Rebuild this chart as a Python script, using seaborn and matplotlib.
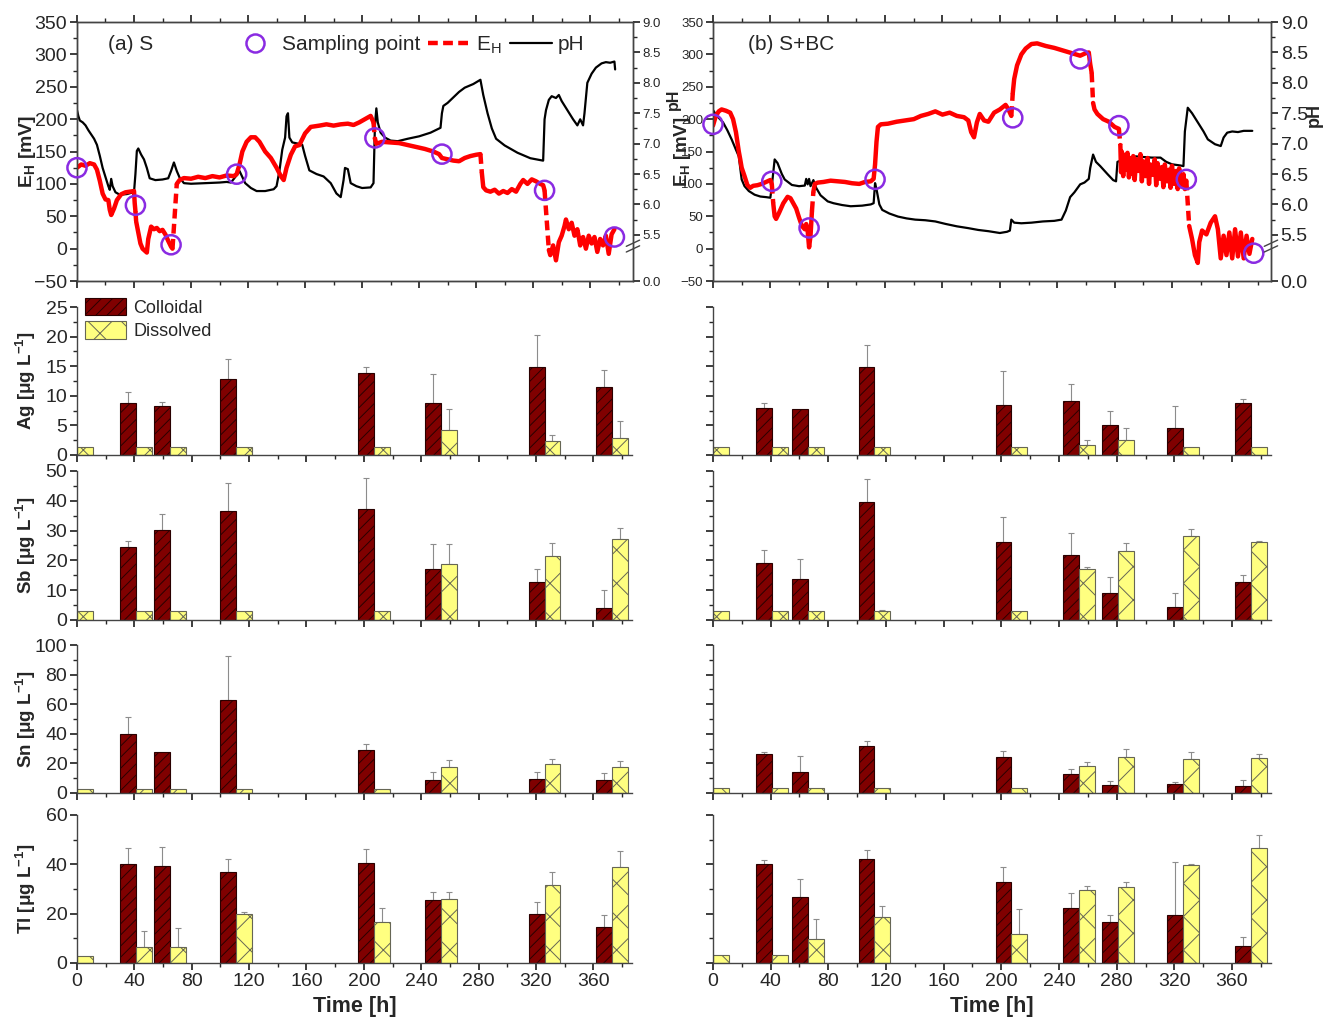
import matplotlib
matplotlib.use("Agg")
import matplotlib.pyplot as plt
from matplotlib.lines import Line2D
from matplotlib.patches import Patch
from matplotlib.ticker import MultipleLocator, FixedLocator, NullFormatter
import numpy as np
import pandas as pd
import seaborn as sns

# ---------------- top panels: EH (segments) and pH traces ----------------
s_eh_t = [
    [0, 3, 6, 9, 12, 14, 16, 18, 20, 22, 23, 24, 26, 28, 31, 34, 37, 40, 40.5, 41],
    [41.5, 43, 44.5, 46, 48, 49, 50, 52, 54, 56, 58, 60, 62, 64, 66, 67],
    [70, 72, 75, 80, 85, 90, 95, 100, 105, 110, 112, 114, 116, 119, 122, 125, 128, 132, 136,
     140, 143, 145, 147, 150, 153, 156, 160, 164, 170, 175, 180, 185, 190, 194, 198, 202, 206, 208],
    [209, 210, 214, 220, 226, 232, 238, 244, 250, 254, 256, 260, 264, 268, 272, 276, 280, 283],
    [284, 285, 287, 290, 293, 296, 299, 302, 305, 308, 311, 313, 316, 319, 322, 325, 327, 328],
    [331, 332, 334, 336, 338, 340, 342, 343, 345, 347, 349, 351, 353, 355, 357, 359, 361, 363,
     365, 367, 369, 371, 373, 375, 377],
]
s_eh = [
    [125, 130, 128, 132, 130, 122, 105, 85, 76, 75, 60, 52, 62, 75, 84, 87, 88, 89, 70, 58],
    [42, 25, 8, 0, -4, -6, 15, 34, 30, 32, 27, 29, 22, 12, 3, 0],
    [100, 106, 109, 108, 111, 109, 112, 110, 113, 112, 115, 130, 150, 165, 172, 172, 165, 150, 140,
     125, 112, 106, 125, 145, 158, 160, 178, 188, 190, 192, 190, 192, 193, 191, 195, 200, 205, 195],
    [170, 162, 165, 164, 163, 160, 157, 154, 150, 146, 140, 138, 136, 135, 140, 143, 145, 146],
    [117, 95, 90, 88, 91, 85, 89, 86, 92, 88, 100, 106, 100, 107, 104, 100, 98, 90],
    [-2, -10, 5, -18, 10, 20, 35, 45, 30, 40, 20, 30, 5, 18, 0, 20, 8, 18,
     -5, 15, 5, 20, -8, 22, 30],
]
s_ph_t = [0, 1, 2, 4, 6, 8, 10, 12, 14, 16, 18, 20, 22, 23, 24, 25, 27, 30, 35, 38, 40, 41, 42, 43,
          45, 47, 49, 51, 55, 60, 64, 66, 68, 70, 72, 75, 80, 90, 100, 105, 108, 110, 112, 114, 116,
          118, 122, 126, 132, 138, 140, 142, 144, 146, 147, 148, 149, 151, 155, 158, 160, 163, 168,
          173, 178, 182, 185, 187, 188, 190, 192, 196, 200, 206, 208, 209, 210, 211, 213, 216, 220,
          225, 232, 240, 248, 255, 256, 257, 260, 264, 268, 272, 278, 283, 285, 288, 291, 294, 300,
          309, 318, 327, 328, 329, 331, 333, 336, 338, 340, 344, 348, 351, 353, 355, 356, 358, 361,
          364, 368, 371, 374, 377, 377.5]
s_ph = [7.55, 7.45, 7.38, 7.35, 7.3, 7.22, 7.15, 7.08, 6.98, 6.8, 6.6, 6.45, 6.3, 6.24, 6.42, 6.3,
        6.2, 6.16, 6.17, 6.19, 6.2, 6.5, 6.88, 6.92, 6.82, 6.74, 6.6, 6.43, 6.4, 6.41, 6.43, 6.55,
        6.69, 6.55, 6.44, 6.35, 6.34, 6.35, 6.36, 6.37, 6.36, 6.42, 6.48, 6.55, 6.45, 6.35, 6.27,
        6.22, 6.22, 6.25, 6.3, 6.55, 6.9, 7.1, 7.45, 7.5, 7.1, 7.02, 7.0, 6.98, 6.8, 6.56, 6.5, 6.46,
        6.35, 6.18, 6.12, 6.4, 6.6, 6.58, 6.35, 6.3, 6.27, 6.28, 6.35, 7.3, 7.58, 7.35, 7.18, 7.1,
        7.05, 7.04, 7.08, 7.12, 7.18, 7.26, 7.5, 7.62, 7.67, 7.76, 7.85, 7.92, 7.98, 8.05, 7.8, 7.5,
        7.25, 7.08, 6.97, 6.85, 6.76, 6.72, 7.4, 7.55, 7.72, 7.78, 7.75, 7.8, 7.7, 7.55, 7.4, 7.3,
        7.4, 7.3, 7.5, 8.0, 8.15, 8.25, 8.32, 8.34, 8.33, 8.35, 8.22]
s_samp_t = [0, 41, 66, 112, 209, 256, 328, 377]
s_samp_eh = [125, 67, 6, 115, 171, 146, 90, 18]

b_eh_t = [
    [0, 2, 4, 6, 9, 12, 14, 16, 18, 19, 20, 22, 24, 26, 28, 31, 34, 37, 40, 41],
    [42, 43, 44, 46, 49, 52, 54, 56, 58, 60, 62, 64, 65, 66, 67, 68, 69],
    [70, 71, 73, 77, 82, 87, 92, 97, 102, 106, 110, 112, 113, 114, 115, 117, 122, 128, 134, 140,
     145, 150, 155, 160, 165, 170, 175, 178, 180, 182, 184, 186, 189, 192, 196, 200, 204, 206, 208],
    [209, 210, 212, 215, 218, 222, 226, 232, 238, 244, 250, 256, 260, 262, 263, 264],
    [265, 266, 268, 272, 276, 280, 283],
    [284, 284.5, 285, 286, 287, 288, 289, 290, 291, 292, 293, 294, 295, 296.5, 298, 299, 300,
     301.5, 303, 304, 305, 306.5, 308, 309, 310, 311.5, 313, 314, 315, 316.5, 318, 319, 320,
     321.5, 323, 324, 325, 326.5, 328, 329, 330],
    [332, 334, 336, 338, 339, 341, 344, 347, 350, 352, 354, 356, 358, 360, 362, 364, 366, 368,
     370, 372, 374, 376],
]
b_eh = [
    [190, 205, 212, 215, 213, 210, 200, 180, 150, 138, 125, 112, 98, 94, 97, 98, 100, 103, 106, 100],
    [70, 50, 46, 55, 70, 80, 78, 70, 62, 48, 35, 30, 38, 28, 2, 20, 58],
    [88, 100, 102, 103, 105, 104, 103, 101, 100, 103, 104, 108, 130, 165, 188, 192, 193, 196, 198,
     200, 205, 208, 212, 207, 210, 205, 203, 198, 180, 172, 195, 208, 198, 196, 210, 215, 222, 215,
     205],
    [240, 262, 283, 300, 309, 316, 317, 313, 310, 306, 302, 298, 302, 303, 285, 272],
    [225, 215, 208, 200, 196, 188, 185],
    [160, 118, 150, 112, 145, 122, 148, 110, 140, 116, 143, 106, 138, 120, 146, 104, 135,
     112, 140, 100, 130, 114, 138, 98, 132, 108, 126, 95, 130, 104, 122, 94, 128,
     100, 120, 92, 124, 96, 115, 92, 105],
    [35, 15, -10, -22, 10, 28, 22, 40, 50, 30, -15, 20, -10, 25, -15, 30, -12, 25,
     -15, 20, -8, 15],
]
b_ph_t = [0, 3, 7, 10, 13, 16, 18, 19, 20, 22, 25, 29, 33, 37, 40, 41, 43, 45, 48, 50, 55, 60, 64,
          65, 66, 67, 68, 70, 72, 75, 80, 84, 90, 96, 104, 110, 112, 113, 114, 116, 118, 123, 129,
          135, 141, 148, 155, 162, 170, 178, 185, 192, 200, 205, 207, 208, 210, 215, 222, 230, 238,
          243, 246, 249, 252, 256, 259, 262, 263, 265, 267, 270, 275, 279, 281, 282, 284, 290, 295,
          300, 306, 312, 316, 320, 326, 328, 329, 331, 334, 338, 342, 345, 350, 354, 356, 358.5,
          362, 366, 370, 376]
b_ph = [7.55, 7.45, 7.35, 7.22, 7.07, 6.9, 6.79, 6.6, 6.41, 6.3, 6.22, 6.16, 6.13, 6.12, 6.11, 6.3,
        6.74, 6.68, 6.5, 6.41, 6.32, 6.3, 6.31, 6.42, 6.33, 6.42, 6.3, 6.4, 6.27, 6.15, 6.05, 6.02,
        5.99, 5.97, 5.98, 6.0, 6.02, 6.35, 6.25, 6.0, 5.91, 5.85, 5.8, 5.77, 5.75, 5.74, 5.72, 5.68,
        5.64, 5.61, 5.58, 5.56, 5.53, 5.55, 5.57, 5.75, 5.7, 5.69, 5.7, 5.72, 5.73, 5.75, 5.9, 6.12,
        6.2, 6.33, 6.36, 6.42, 6.6, 6.82, 6.7, 6.63, 6.5, 6.4, 6.38, 6.7, 6.72, 6.77, 6.79, 6.78,
        6.77, 6.77, 6.7, 6.66, 6.64, 6.63, 7.2, 7.59, 7.5, 7.35, 7.2, 7.07, 6.99, 6.96, 7.1, 7.18,
        7.2, 7.19, 7.21, 7.21]
b_samp_t = [0, 41, 67, 113, 209, 256, 283, 330, 377]
b_samp_eh = [192, 104, 32, 107, 202, 293, 190, 107, -7]

# ---------------- bar panels ----------------
elements = ["Ag", "Sb", "Sn", "Tl"]
s_bar_t = [0, 41, 65, 111, 207, 254, 326, 373]
b_bar_t = [0, 41, 66, 112, 207, 254, 281, 326, 373]

s_coll = {
    "Ag": [0, 8.8, 8.3, 12.8, 13.9, 8.7, 14.9, 11.5],
    "Sb": [0, 24.5, 30.3, 36.5, 37.3, 17.0, 12.7, 4.1],
    "Sn": [0, 40.0, 28.0, 63.0, 29.0, 9.0, 9.6, 8.9],
    "Tl": [0, 40.1, 39.5, 36.8, 40.5, 25.4, 19.7, 14.6],
}
s_coll_err = {
    "Ag": [0, 10.7, 9.0, 16.2, 14.9, 13.7, 20.3, 14.4],
    "Sb": [0, 26.5, 35.5, 46.0, 47.5, 25.4, 17.0, 9.9],
    "Sn": [0, 51.2, 28.0, 92.4, 32.9, 14.1, 14.1, 13.2],
    "Tl": [0, 46.7, 47.0, 42.3, 46.3, 28.7, 24.6, 19.5],
}
s_diss = {
    "Ag": [1.3, 1.3, 1.3, 1.3, 1.3, 4.2, 2.3, 2.9],
    "Sb": [3.0, 3.0, 3.0, 3.0, 3.0, 18.8, 21.5, 27.2],
    "Sn": [2.9, 2.9, 2.9, 2.9, 2.9, 17.4, 19.5, 17.3],
    "Tl": [2.95, 6.3, 6.6, 19.7, 16.5, 25.8, 31.8, 38.8],
}
s_diss_err = {
    "Ag": [1.3, 1.3, 1.3, 1.3, 1.3, 7.7, 3.35, 5.8],
    "Sb": [3.0, 3.0, 3.0, 3.0, 3.0, 25.4, 25.8, 31.0],
    "Sn": [2.9, 2.9, 2.9, 2.9, 2.9, 22.6, 23.0, 21.7],
    "Tl": [2.95, 13.0, 14.2, 20.7, 22.1, 28.9, 36.9, 45.2],
}
b_coll = {
    "Ag": [0, 7.9, 7.7, 14.9, 8.5, 9.1, 5.0, 4.5, 8.8],
    "Sb": [0, 19.2, 13.8, 39.5, 26.0, 21.9, 9.2, 4.5, 12.7],
    "Sn": [0, 26.3, 14.5, 32.0, 24.3, 12.7, 5.6, 5.8, 4.5],
    "Tl": [0, 40.0, 26.6, 42.0, 32.7, 22.3, 16.6, 19.3, 6.9],
}
b_coll_err = {
    "Ag": [0, 8.8, 7.7, 18.5, 14.2, 12.0, 7.4, 8.3, 9.5],
    "Sb": [0, 23.6, 20.6, 47.4, 34.5, 29.3, 14.3, 8.9, 15.0],
    "Sn": [0, 27.7, 24.8, 35.1, 28.6, 15.9, 8.3, 7.6, 8.5],
    "Tl": [0, 41.6, 34.1, 46.0, 38.9, 28.3, 19.5, 40.8, 10.5],
}
b_diss = {
    "Ag": [1.3, 1.3, 1.3, 1.3, 1.3, 1.7, 2.5, 1.3, 1.3],
    "Sb": [3.1, 3.1, 3.1, 2.9, 3.1, 17.2, 23.1, 28.2, 26.2],
    "Sn": [3.1, 3.1, 3.1, 3.1, 3.1, 18.3, 24.4, 22.8, 23.7],
    "Tl": [3.1, 3.1, 9.9, 18.7, 11.7, 29.5, 30.6, 39.8, 46.5],
}
b_diss_err = {
    "Ag": [1.3, 1.3, 1.3, 1.3, 1.3, 2.6, 4.5, 1.3, 1.3],
    "Sb": [3.1, 3.1, 3.1, 3.5, 3.1, 17.9, 25.7, 30.4, 26.5],
    "Sn": [3.1, 3.1, 3.1, 3.1, 3.1, 20.8, 29.8, 27.7, 26.4],
    "Tl": [3.1, 3.1, 17.7, 23.0, 21.9, 31.3, 32.8, 40.3, 52.0],
}
y_max = {"Ag": 25, "Sb": 50, "Sn": 100, "Tl": 60}
y_major = {"Ag": 5, "Sb": 10, "Sn": 20, "Tl": 20}

COLL = "#800000"
DISS = "#FFFF80"
RED = "#FF0000"
PURPLE = "#8A2BE2"

sns.set_theme(style="ticks")
plt.rcParams["font.family"] = ["Liberation Sans", "DejaVu Sans"]
plt.rcParams["mathtext.fontset"] = "custom"
plt.rcParams["mathtext.rm"] = "Liberation Sans"
plt.rcParams["mathtext.bf"] = "Liberation Sans:bold"
plt.rcParams["hatch.linewidth"] = 0.7
plt.rcParams["axes.linewidth"] = 1.0
plt.rcParams["xtick.direction"] = "out"
plt.rcParams["ytick.direction"] = "out"

BIG = 14
SMALL = 9.5

fig = plt.figure(figsize=(13.25, 10.19), dpi=100)


def ph_to_axis(ax2):
    ax2.set_ylim(4.74, 9.0)
    ax2.yaxis.set_major_locator(FixedLocator([4.74, 5.5, 6.0, 6.5, 7.0, 7.5, 8.0, 8.5, 9.0]))
    ax2.set_yticklabels(["0.0", "5.5", "6.0", "6.5", "7.0", "7.5", "8.0", "8.5", "9.0"])
    ax2.yaxis.set_minor_locator(FixedLocator(np.arange(5.75, 9.0, 0.5)))


def draw_top(rect, eh_t, eh, ph_t, ph, samp_t, samp_eh, xmax, left_fs, right_fs):
    ax = fig.add_axes(rect)
    ax2 = ax.twinx()
    sns.lineplot(x=ph_t, y=ph, ax=ax2, color="black", lw=1.6, estimator=None, sort=False)
    rows = []
    for k, (tt, vv) in enumerate(zip(eh_t, eh)):
        rows += [(k, a, b) for a, b in zip(tt, vv)]
    df = pd.DataFrame(rows, columns=["seg", "t", "eh"])
    sns.lineplot(data=df, x="t", y="eh", units="seg", estimator=None, sort=False,
                 color=RED, lw=3.2, ax=ax)
    for k in range(len(eh_t) - 1):
        ax.plot([eh_t[k][-1], eh_t[k + 1][0]], [eh[k][-1], eh[k + 1][0]],
                color=RED, lw=3.2, ls=(0, (2.2, 1.2)))
    ax.scatter(samp_t, samp_eh, s=190, facecolors="none", edgecolors=PURPLE,
               linewidths=1.8, zorder=5, clip_on=False)
    ax.set_zorder(ax2.get_zorder() + 1)
    ax.patch.set_visible(False)
    ax.set_xlim(0, xmax)
    ax.set_ylim(-50, 350)
    ax.yaxis.set_major_locator(MultipleLocator(50))
    ax.yaxis.set_minor_locator(MultipleLocator(25))
    ax.xaxis.set_major_locator(MultipleLocator(40))
    ax.xaxis.set_minor_locator(MultipleLocator(20))
    ax.tick_params(axis="x", which="both", top=True, labelbottom=False)
    ax.tick_params(axis="both", which="major", length=5)
    ax.tick_params(axis="both", which="minor", length=3)
    ax.tick_params(axis="y", labelsize=left_fs, pad=2)
    ax.set_xlabel("")
    ph_to_axis(ax2)
    ax2.tick_params(axis="y", which="major", length=5, labelsize=right_fs, pad=2)
    ax2.tick_params(axis="y", which="minor", length=3)
    ax2.set_ylabel("")
    for s in ax.spines.values():
        s.set_color("#444444")
    # axis break marks
    for dy in (0.0, 0.022):
        ax.plot([0.988, 1.012], [0.112 + dy, 0.136 + dy], transform=ax.transAxes,
                color="#444444", lw=1.0, clip_on=False, zorder=10)
    return ax, ax2


# top-left
axA, axA2 = draw_top([0.0581, 0.7242, 0.4196, 0.2542], s_eh_t, s_eh, s_ph_t, s_ph,
                     s_samp_t, s_samp_eh, 390, BIG, SMALL)
axA.set_ylabel(r"E$_\mathbf{H}$ [mV]", fontsize=14, fontweight="bold")
axA.yaxis.set_label_coords(-0.07, 0.5)
axA2.set_ylabel("pH", fontsize=11.5, fontweight="bold", rotation=90)
axA2.yaxis.set_label_coords(1.06, 0.70)
axA.text(0.056, 0.915, "(a) S", transform=axA.transAxes, fontsize=15, va="center")
handles = [
    Line2D([], [], marker="o", ls="none", markersize=13, markerfacecolor="none",
           markeredgecolor=PURPLE, markeredgewidth=1.8),
    Line2D([], [], color=RED, lw=3.2, ls=(0, (2.2, 1.2))),
    Line2D([], [], color="black", lw=1.6),
]
axA.legend(handles, ["Sampling point", r"E$_\mathrm{H}$", "pH"], ncol=3, frameon=False,
           loc="center left", bbox_to_anchor=(0.282, 0.911), fontsize=15,
           handlelength=2.0, handletextpad=0.3, columnspacing=0.4, borderaxespad=0,
           borderpad=0)

# top-right
axB, axB2 = draw_top([0.5381, 0.7242, 0.4211, 0.2542], b_eh_t, b_eh, b_ph_t, b_ph,
                     b_samp_t, b_samp_eh, 389, SMALL, BIG)
axB.set_ylabel(r"E$_\mathbf{H}$ [mV]", fontsize=13.5, fontweight="bold")
axB.yaxis.set_label_coords(-0.035, 0.5)
axB2.set_ylabel("pH", fontsize=13, fontweight="bold", rotation=90)
axB2.yaxis.set_label_coords(1.062, 0.64)
axB.text(0.062, 0.915, "(b) S+BC", transform=axB.transAxes, fontsize=15, va="center")

# bar panels
row_rects = [(0.5535, 0.1452), (0.3916, 0.1462), (0.2218, 0.1452), (0.0550, 0.1452)]
bw = 11.0
for col, (x0, w, times, coll, collerr, diss, disserr) in enumerate([
    (0.0581, 0.4189, s_bar_t, s_coll, s_coll_err, s_diss, s_diss_err),
    (0.5381, 0.4211, b_bar_t, b_coll, b_coll_err, b_diss, b_diss_err),
]):
    for r, el in enumerate(elements):
        y0, h = row_rects[r]
        ax = fig.add_axes([x0, y0, w, h])
        t = np.array(times, dtype=float)
        c = np.array(coll[el])
        d = np.array(diss[el])
        ax.bar(t - bw / 2, c, width=bw, color=COLL, edgecolor="#2a0000", hatch="///",
               linewidth=0.8, zorder=2)
        ax.bar(t + bw / 2, d, width=bw, color=DISS, edgecolor="#666655", hatch="x",
               linewidth=0.8, zorder=2)
        ce = np.array(collerr[el]) - c
        de = np.array(disserr[el]) - d
        mc = ce > 0.05
        md = de > 0.05
        ax.errorbar((t - bw / 2)[mc], c[mc], yerr=[np.zeros(mc.sum()), ce[mc]], fmt="none",
                    ecolor="#8c8c8c", elinewidth=0.8, capsize=2.5, capthick=0.8, zorder=1)
        ax.errorbar((t + bw / 2)[md], d[md], yerr=[np.zeros(md.sum()), de[md]], fmt="none",
                    ecolor="#8c8c8c", elinewidth=0.8, capsize=2.5, capthick=0.8, zorder=1)
        ax.set_xlim(0, 387)
        ax.set_ylim(0, y_max[el])
        ax.yaxis.set_major_locator(MultipleLocator(y_major[el]))
        ax.yaxis.set_minor_locator(MultipleLocator(y_major[el] / 2))
        ax.xaxis.set_major_locator(MultipleLocator(40))
        ax.xaxis.set_minor_locator(MultipleLocator(20))
        ax.tick_params(axis="both", which="major", length=5, labelsize=BIG, pad=2)
        ax.tick_params(axis="both", which="minor", length=3)
        sns.despine(ax=ax)
        for s in ax.spines.values():
            s.set_color("#444444")
        if r < 3:
            ax.tick_params(axis="x", labelbottom=False)
        else:
            ax.set_xlabel("Time [h]", fontsize=15.5, fontweight="bold")
            ax.xaxis.set_label_coords(0.5, -0.22)
        if col == 0:
            ax.set_ylabel(el + r" [μg L$^{\mathbf{-1}}$]", fontsize=13.5, fontweight="bold")
            ax.yaxis.set_label_coords(-0.07, 0.5)
        else:
            ax.yaxis.set_major_formatter(NullFormatter())
        if col == 0 and el == "Ag":
            leg_h = [Patch(facecolor=COLL, edgecolor="#2a0000", hatch="///", linewidth=0.8),
                     Patch(facecolor=DISS, edgecolor="#666655", hatch="x", linewidth=0.8)]
            ax.legend(leg_h, ["Colloidal", "Dissolved"], loc="upper left",
                      bbox_to_anchor=(0.014, 1.06), frameon=False, fontsize=13,
                      handlelength=2.3, handleheight=1.1, handletextpad=0.4,
                      labelspacing=0.25, borderaxespad=0, borderpad=0)

fig.savefig("out.png", dpi=100)
